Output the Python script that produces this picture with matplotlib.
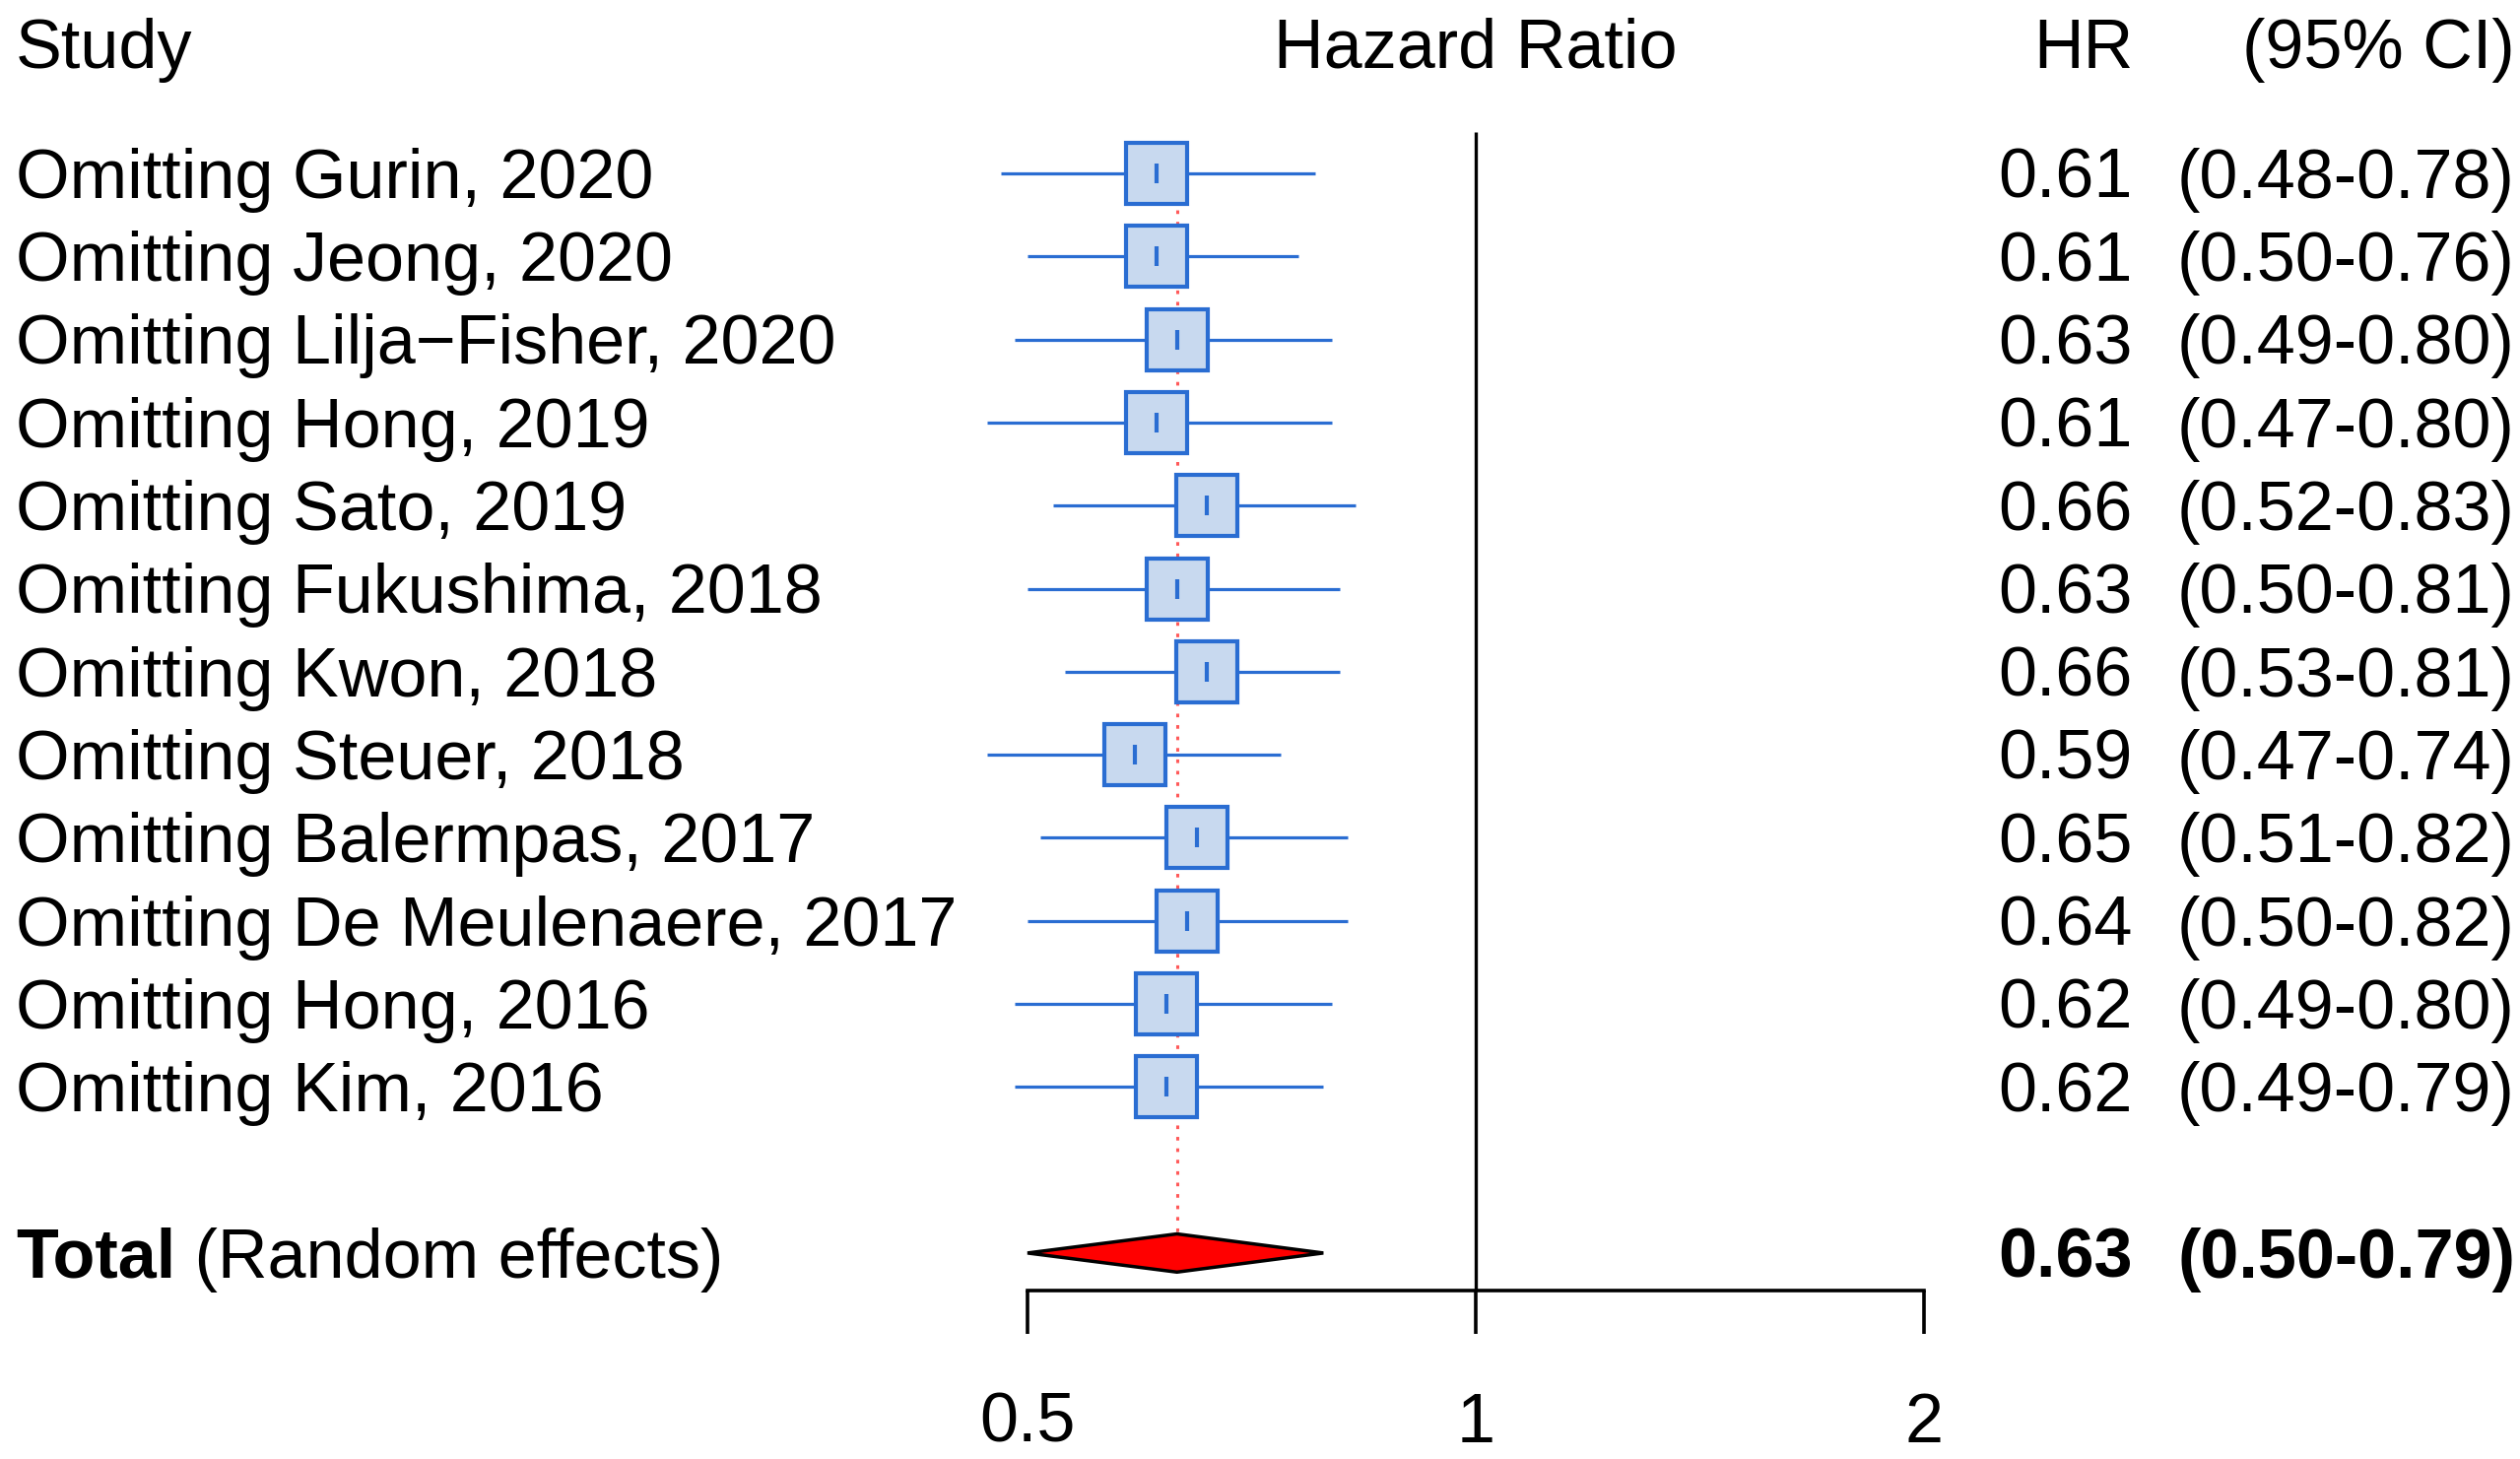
import numpy as np
import matplotlib.pyplot as plt
from matplotlib.transforms import blended_transform_factory

# Leave-one-out sensitivity analysis (HR with 95% CI)
studies = [
    "Omitting Gurin, 2020",
    "Omitting Jeong, 2020",
    "Omitting Lilja\u2212Fisher, 2020",
    "Omitting Hong, 2019",
    "Omitting Sato, 2019",
    "Omitting Fukushima, 2018",
    "Omitting Kwon, 2018",
    "Omitting Steuer, 2018",
    "Omitting Balermpas, 2017",
    "Omitting De Meulenaere, 2017",
    "Omitting Hong, 2016",
    "Omitting Kim, 2016",
]
hr = [0.61, 0.61, 0.63, 0.61, 0.66, 0.63, 0.66, 0.59, 0.65, 0.64, 0.62, 0.62]
lower = [0.48, 0.50, 0.49, 0.47, 0.52, 0.50, 0.53, 0.47, 0.51, 0.50, 0.49, 0.49]
upper = [0.78, 0.76, 0.80, 0.80, 0.83, 0.81, 0.81, 0.74, 0.82, 0.82, 0.80, 0.79]

total_hr = 0.63
total_lower = 0.50
total_upper = 0.79

xticks = [0.5, 1, 2]
xticklabels = ["0.5", "1", "2"]

########################################################
plt.rcParams["font.family"] = ["Liberation Sans", "DejaVu Sans"]
FS = 50.5
plt.rcParams["font.size"] = FS

W, H = 2558, 1481
DPI = 100
fig = plt.figure(figsize=(W / DPI, H / DPI), dpi=DPI)

# forest panel: x 0.5..2 spans px 1043..1953, bottom spine at px 1310
row_px = 84.3
first_px = 176
axis_px = 1310
ax = fig.add_axes([1043 / W, (H - axis_px) / H, 910 / W, axis_px / H])
ax.set_xscale("log")
ax.set_xlim(0.5, 2)
ax.set_ylim((axis_px - first_px) / row_px, -first_px / row_px)
ax.patch.set_visible(False)

for s in ["top", "right", "left"]:
    ax.spines[s].set_visible(False)
ax.spines["bottom"].set_linewidth(2.6)
ax.spines["bottom"].set_bounds(0.5, 2)
ax.set_xticks(xticks)
ax.set_xticklabels(xticklabels)
ax.minorticks_off()
ax.set_yticks([])
ax.tick_params(axis="x", direction="out", length=32, width=2.6, pad=42,
               labelsize=FS)

blue = "#2a6dd2"
fill = "#c8d9ef"
y = np.arange(len(studies))
y_total = len(studies) + 1

# reference line at HR = 1
ax.plot([1, 1], [-0.5, ax.get_ylim()[0]], color="black", lw=2.4,
        solid_capstyle="butt", clip_on=False)
# summary estimate (dotted)
ax.plot([total_hr, total_hr], [-0.25, y_total - 0.23], color="#ff5a5a",
        lw=2.2, linestyle=(0, (1.2, 2.6)), zorder=1)

# CI lines, boxes, estimate ticks
ax.hlines(y, lower, upper, color=blue, lw=2.3, zorder=2, clip_on=False)
ax.plot(hr, y, linestyle="none", marker="s", markersize=45,
        markerfacecolor=fill, markeredgecolor=blue, markeredgewidth=3,
        zorder=3, clip_on=False)
ax.plot(hr, y, linestyle="none", marker="|", markersize=15,
        markeredgecolor=blue, markeredgewidth=3, zorder=4, clip_on=False)

# diamond for pooled effect
dh = 0.23
ax.fill([total_lower, total_hr, total_upper, total_hr],
        [y_total, y_total - dh, y_total, y_total + dh],
        facecolor="red", edgecolor="black", lw=2.5, zorder=3,
        clip_on=False)

# text columns
tr = blended_transform_factory(fig.transFigure, ax.transData)
off = 0.295  # baseline offset to centre caps on the row
x_lab = 16 / W
x_hr = 2165 / W
x_ci = 2553 / W

header_y = (44 - first_px) / row_px
ax.text(x_lab, header_y + off, "Study", transform=tr, ha="left",
        va="baseline")
ax.text(1, header_y + off, "Hazard Ratio", ha="center", va="baseline")
ax.text(x_hr, header_y + off, "HR", transform=tr, ha="right", va="baseline")
ax.text(x_ci, header_y + off, "(95% CI)", transform=tr, ha="right",
        va="baseline")

for i, name in enumerate(studies):
    ax.text(x_lab, y[i] + off, name, transform=tr, ha="left", va="baseline")
    ax.text(x_hr, y[i] + off, f"{hr[i]:.2f}", transform=tr, ha="right",
            va="baseline")
    ax.text(x_ci, y[i] + off, f"({lower[i]:.2f}-{upper[i]:.2f})",
            transform=tr, ha="right", va="baseline")

t = ax.text(x_lab, y_total + off, "Total", transform=tr, ha="left",
            va="baseline", fontweight="bold")
ax.annotate(" (Random effects)", xycoords=t, xy=(1, 0), va="bottom",
            ha="left", fontsize=FS)
ax.text(x_hr, y_total + off, f"{total_hr:.2f}", transform=tr, ha="right",
        va="baseline", fontweight="bold")
ax.text(x_ci, y_total + off, f"({total_lower:.2f}-{total_upper:.2f})",
        transform=tr, ha="right", va="baseline", fontweight="bold")

plt.savefig("out.png", dpi=DPI)
